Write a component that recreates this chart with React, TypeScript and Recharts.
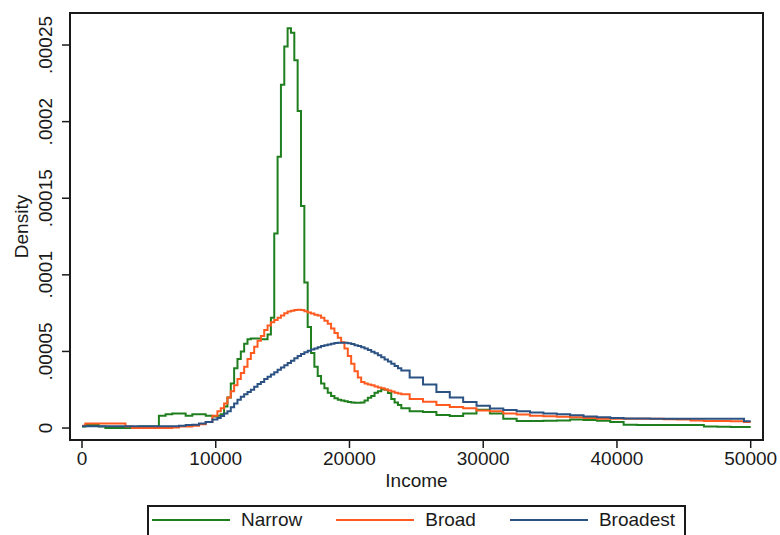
import { LineChart, Line, XAxis, YAxis, ReferenceArea } from 'recharts';

// income grid (finer around the peaks)
const income = [
  0, 500, 1000, 1500, 2000, 2500, 3000, 3500, 4000, 4500, 5000, 5500, 6000, 6500, 7000, 7500, 8000, 8500, 9000, 9500, 10000,
  10250, 10500, 10750, 11000, 11250, 11500, 11750, 12000, 12250, 12500, 12750, 13000, 13250, 13500, 13750, 14000,
  14250, 14500, 14750, 15000, 15250, 15500, 15750, 16000, 16250, 16500, 16750, 17000, 17250, 17500, 17750, 18000,
  18250, 18500, 18750, 19000, 19250, 19500, 19750, 20000, 20250, 20500, 20750, 21000, 21250, 21500, 21750, 22000,
  22250, 22500, 22750, 23000, 23250, 23500, 23750, 24000,
  25000, 26000, 27000, 28000, 29000, 30000, 31000, 32000, 33000, 34000, 35000, 36000, 37000, 38000, 39000, 40000,
  41000, 42000, 43000, 44000, 45000, 46000, 47000, 48000, 49000, 50000,
];

const narrow = [
  1e-6, 2e-6, 2e-6, 1e-6, 0, 0, 0, 0, 0, 1e-6, 1e-6, 1e-6, 8e-6, 9e-6, 9.5e-6, 9.5e-6, 8e-6, 9e-6, 9e-6, 8e-6, 7.5e-6,
  8e-6, 9e-6, 14e-6, 20e-6, 29e-6, 39e-6, 45e-6, 50e-6, 55e-6, 58e-6, 58.5e-6, 58.5e-6, 58.5e-6, 58e-6, 58e-6, 61e-6,
  72e-6, 127e-6, 177e-6, 224e-6, 249e-6, 261e-6, 258e-6, 240e-6, 207e-6, 145e-6, 95e-6, 66e-6, 49e-6, 40e-6, 34e-6, 29e-6,
  26e-6, 23e-6, 21e-6, 19.5e-6, 18.5e-6, 18e-6, 17.5e-6, 17e-6, 16.6e-6, 16.5e-6, 16.5e-6, 16.6e-6, 18e-6, 19.7e-6, 21e-6, 23e-6,
  24e-6, 25.3e-6, 25e-6, 22.8e-6, 19e-6, 16.7e-6, 15e-6, 13e-6,
  11e-6, 10.5e-6, 8.5e-6, 7.8e-6, 9.5e-6, 12e-6, 9.5e-6, 6e-6, 4.6e-6, 4.6e-6, 4.8e-6, 5e-6, 5.5e-6, 5.2e-6, 4.7e-6, 4e-6,
  2.2e-6, 2e-6, 2e-6, 2e-6, 2e-6, 2e-6, 1e-6, 0.8e-6, 0.7e-6, 0.7e-6,
];

const broad = [
  1.5e-6, 3e-6, 3e-6, 3e-6, 3e-6, 3e-6, 3e-6, 1e-6, 0, 0, 0, 0, 0, 0, 0.3e-6, 1e-6, 1e-6, 1.5e-6, 2.5e-6, 4e-6, 8e-6,
  11e-6, 13e-6, 16e-6, 20e-6, 24e-6, 28e-6, 32e-6, 36e-6, 40e-6, 45e-6, 49e-6, 53e-6, 57e-6, 60e-6, 64e-6, 67e-6,
  69e-6, 70.5e-6, 72e-6, 73.5e-6, 75e-6, 76e-6, 76.5e-6, 77e-6, 77.2e-6, 77e-6, 76.2e-6, 75.5e-6, 74.8e-6, 74e-6, 73.5e-6, 72e-6,
  70e-6, 68e-6, 65e-6, 62e-6, 59e-6, 56e-6, 52e-6, 47e-6, 42e-6, 37e-6, 33e-6, 30e-6, 29e-6, 28.5e-6, 28e-6, 27.2e-6,
  26.5e-6, 26e-6, 25.2e-6, 24.5e-6, 23.8e-6, 23e-6, 22.5e-6, 22e-6,
  19e-6, 17.2e-6, 15e-6, 13.8e-6, 13e-6, 11.5e-6, 11e-6, 9.5e-6, 8.8e-6, 8e-6, 7.7e-6, 7.3e-6, 7e-6, 6.5e-6, 6e-6, 6e-6,
  6e-6, 6e-6, 6e-6, 5.8e-6, 5.5e-6, 5e-6, 4.6e-6, 4.6e-6, 4.4e-6, 4e-6,
];

const broadest = [
  1.2e-6, 1.2e-6, 1.2e-6, 1.2e-6, 1.2e-6, 1.2e-6, 1.2e-6, 1.2e-6, 1.2e-6, 1.2e-6, 1.2e-6, 1.2e-6, 1.2e-6, 1.2e-6, 1.2e-6,
  1.5e-6, 2e-6, 2.2e-6, 3e-6, 4e-6, 5.5e-6,
  6.5e-6, 7.8e-6, 9.5e-6, 11e-6, 13.5e-6, 16e-6, 18.5e-6, 20.5e-6, 22e-6, 23.5e-6, 25e-6, 27e-6, 28.7e-6, 30e-6, 32e-6, 33.5e-6,
  35e-6, 36.5e-6, 38e-6, 39.5e-6, 41e-6, 42.5e-6, 44e-6, 45.5e-6, 47e-6, 48.3e-6, 49.5e-6, 50.5e-6, 51.2e-6, 52e-6, 52.8e-6, 53.5e-6,
  54e-6, 54.5e-6, 55e-6, 55.5e-6, 55.7e-6, 55.7e-6, 55.6e-6, 55.3e-6, 54.8e-6, 54e-6, 53.5e-6, 52.8e-6, 52e-6, 51e-6, 49.8e-6, 48.8e-6,
  47.5e-6, 46.2e-6, 44.8e-6, 43.5e-6, 42e-6, 40.5e-6, 39e-6, 37.5e-6,
  33e-6, 28.5e-6, 23.5e-6, 20e-6, 17e-6, 14.5e-6, 12.8e-6, 11.8e-6, 11e-6, 10.2e-6, 9.5e-6, 9e-6, 8.3e-6, 7.6e-6, 7e-6, 6.6e-6,
  6.3e-6, 6.2e-6, 6.1e-6, 6e-6, 6e-6, 6e-6, 6e-6, 6e-6, 6e-6, 4.5e-6,
];

const xTicks = [0, 10000, 20000, 30000, 40000, 50000];
const yTicks = [0, 0.00005, 0.0001, 0.00015, 0.0002, 0.00025];

const series = [
  { key: 'narrow', name: 'Narrow', color: '#1f7f1f' },
  { key: 'broad', name: 'Broad', color: '#ff5a1f' },
  { key: 'broadest', name: 'Broadest', color: '#2b5283' },
];

const data = income.map((x, i) => ({
  income: x,
  narrow: narrow[i],
  broad: broad[i],
  broadest: broadest[i],
}));

const X_DOMAIN: [number, number] = [-897, 50920];
const Y_DOMAIN: [number, number] = [-0.0000078, 0.0002709];

const FONT = '"Liberation Sans", Arial, sans-serif';
const INK = '#1a1a1a';

// Stata-style labels: .00005 instead of 0.00005
const fmtY = (v: number) => (v === 0 ? '0' : String(v).replace(/^0/, ''));

function YTick({ x, y, payload }: any) {
  return (
    <text
      transform={`translate(${x}, ${y}) rotate(-90)`}
      textAnchor="middle"
      fontFamily={FONT}
      fontSize={19}
      fill={INK}
    >
      {fmtY(payload.value)}
    </text>
  );
}

function XTick({ x, y, payload }: any) {
  return (
    <text x={x} y={y} dy="0.71em" textAnchor="middle" fontFamily={FONT} fontSize={19} fill={INK}>
      {payload.value}
    </text>
  );
}

function Legendbox() {
  return (
    <div
      style={{
        position: 'absolute',
        left: 147,
        top: 505,
        width: 539,
        height: 40,
        border: `2px solid ${INK}`,
        display: 'flex',
        alignItems: 'center',
        paddingLeft: 3,
        paddingBottom: 10,
        boxSizing: 'border-box',
        fontFamily: FONT,
        fontSize: 19,
        color: INK,
      }}
    >
      {series.map((s) => (
        <div key={s.key} style={{ display: 'flex', alignItems: 'center', marginRight: 34 }}>
          <div style={{ width: 78, height: 2, background: s.color, marginRight: 11 }} />
          <span>{s.name}</span>
        </div>
      ))}
    </div>
  );
}

export default function App() {
  return (
    <div
      style={{
        position: 'absolute',
        left: 0,
        top: 0,
        width: 780,
        height: 535,
        overflow: 'hidden',
        background: '#fff',
      }}
    >
      <LineChart width={780} height={535} data={data} margin={{ top: 13, right: 17, bottom: 0, left: 0 }}>
        <XAxis
          dataKey="income"
          type="number"
          domain={X_DOMAIN}
          ticks={xTicks}
          allowDataOverflow
          height={95}
          tickSize={8}
          tickMargin={4}
          stroke={INK}
          strokeWidth={1.5}
          tick={<XTick />}
          label={(p: any) => {
            const vb = p.viewBox;
            return (
              <text x={vb.x + vb.width / 2} y={487} textAnchor="middle" fontFamily={FONT} fontSize={19} fill={INK}>
                Income
              </text>
            );
          }}
        />
        <YAxis
          type="number"
          domain={Y_DOMAIN}
          ticks={yTicks}
          allowDataOverflow
          width={70}
          tickSize={8}
          tickMargin={10.5}
          stroke={INK}
          strokeWidth={1.5}
          tick={<YTick />}
          label={(p: any) => {
            const vb = p.viewBox;
            return (
              <text
                transform={`translate(27.5, ${vb.y + vb.height / 2}) rotate(-90)`}
                textAnchor="middle"
                fontFamily={FONT}
                fontSize={19}
                fill={INK}
              >
                Density
              </text>
            );
          }}
        />
        <ReferenceArea
          x1={X_DOMAIN[0]}
          x2={X_DOMAIN[1]}
          y1={Y_DOMAIN[0]}
          y2={Y_DOMAIN[1]}
          fill="none"
          stroke={INK}
          strokeWidth={2}
        />
        {series.map((s) => (
          <Line
            key={s.key}
            dataKey={s.key}
            name={s.name}
            type="step"
            stroke={s.color}
            strokeWidth={2}
            dot={false}
            isAnimationActive={false}
          />
        ))}
      </LineChart>
      <Legendbox />
    </div>
  );
}
